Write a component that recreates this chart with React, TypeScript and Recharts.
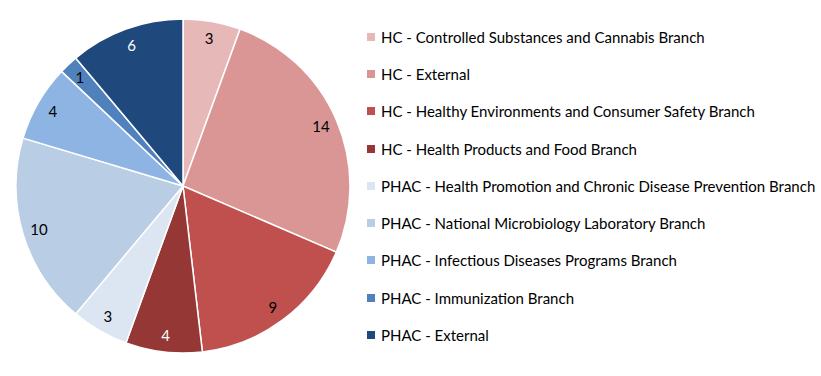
import { Cell, Legend, Pie, PieChart } from "recharts";

const branches = [
  "HC - Controlled Substances and Cannabis Branch",
  "HC - External",
  "HC - Healthy Environments and Consumer Safety Branch",
  "HC - Health Products and Food Branch",
  "PHAC - Health Promotion and Chronic Disease Prevention Branch",
  "PHAC - National Microbiology Laboratory Branch",
  "PHAC - Infectious Diseases Programs Branch",
  "PHAC - Immunization Branch",
  "PHAC - External",
];
const counts = [3, 14, 9, 4, 3, 10, 4, 1, 6];
const colors = ["#E6B9B8", "#D99694", "#C0504D", "#953735", "#DCE6F2", "#B9CDE5", "#8EB4E3", "#4F81BD", "#1F497D"];
const darkLabels = [false, false, false, true, false, false, false, false, true];

const data = branches.map((name, i) => ({ name, value: counts[i] }));
const RAD = Math.PI / 180;
const font = "Lato, 'Open Sans', sans-serif";

function SliceLabel(props: any) {
  const { cx, cy, midAngle, outerRadius, value, index } = props;
  const r = outerRadius * 0.9;
  const x = cx + r * Math.cos(-midAngle * RAD);
  const y = cy + r * Math.sin(-midAngle * RAD);
  return (
    <text x={x} y={y} fill={darkLabels[index] ? "#ffffff" : "#000000"} textAnchor="middle" dominantBaseline="central" fontSize={15} fontFamily={font}>
      {value}
    </text>
  );
}

function LegendList() {
  return (
    <div style={{ fontFamily: font, fontSize: 15, color: "#000" }}>
      {data.map((d, i) => (
        <div key={d.name} style={{ display: "flex", alignItems: "center", height: 37.3 }}>
          <span style={{ width: 8, height: 8, background: colors[i], marginRight: 6, display: "inline-block" }} />
          <span>{d.name}</span>
        </div>
      ))}
    </div>
  );
}

export default function App() {
  return (
    <div style={{ position: "absolute", left: 0, top: 0, width: 821, height: 376, background: "#fff" }}>
      <PieChart width={821} height={376} margin={{ top: 0, right: 0, bottom: 0, left: 0 }}>
        <Pie
          data={data}
          dataKey="value"
          nameKey="name"
          cx={183}
          cy={186}
          outerRadius={167}
          startAngle={90}
          endAngle={-270}
          stroke="#ffffff"
          strokeWidth={1.5}
          label={SliceLabel}
          labelLine={false}
          isAnimationActive={false}
        >
          {data.map((d, i) => (
            <Cell key={d.name} fill={colors[i]} />
          ))}
        </Pie>
        <Legend content={() => <LegendList />} wrapperStyle={{ left: 367, top: 18, width: 454 }} />
      </PieChart>
    </div>
  );
}
